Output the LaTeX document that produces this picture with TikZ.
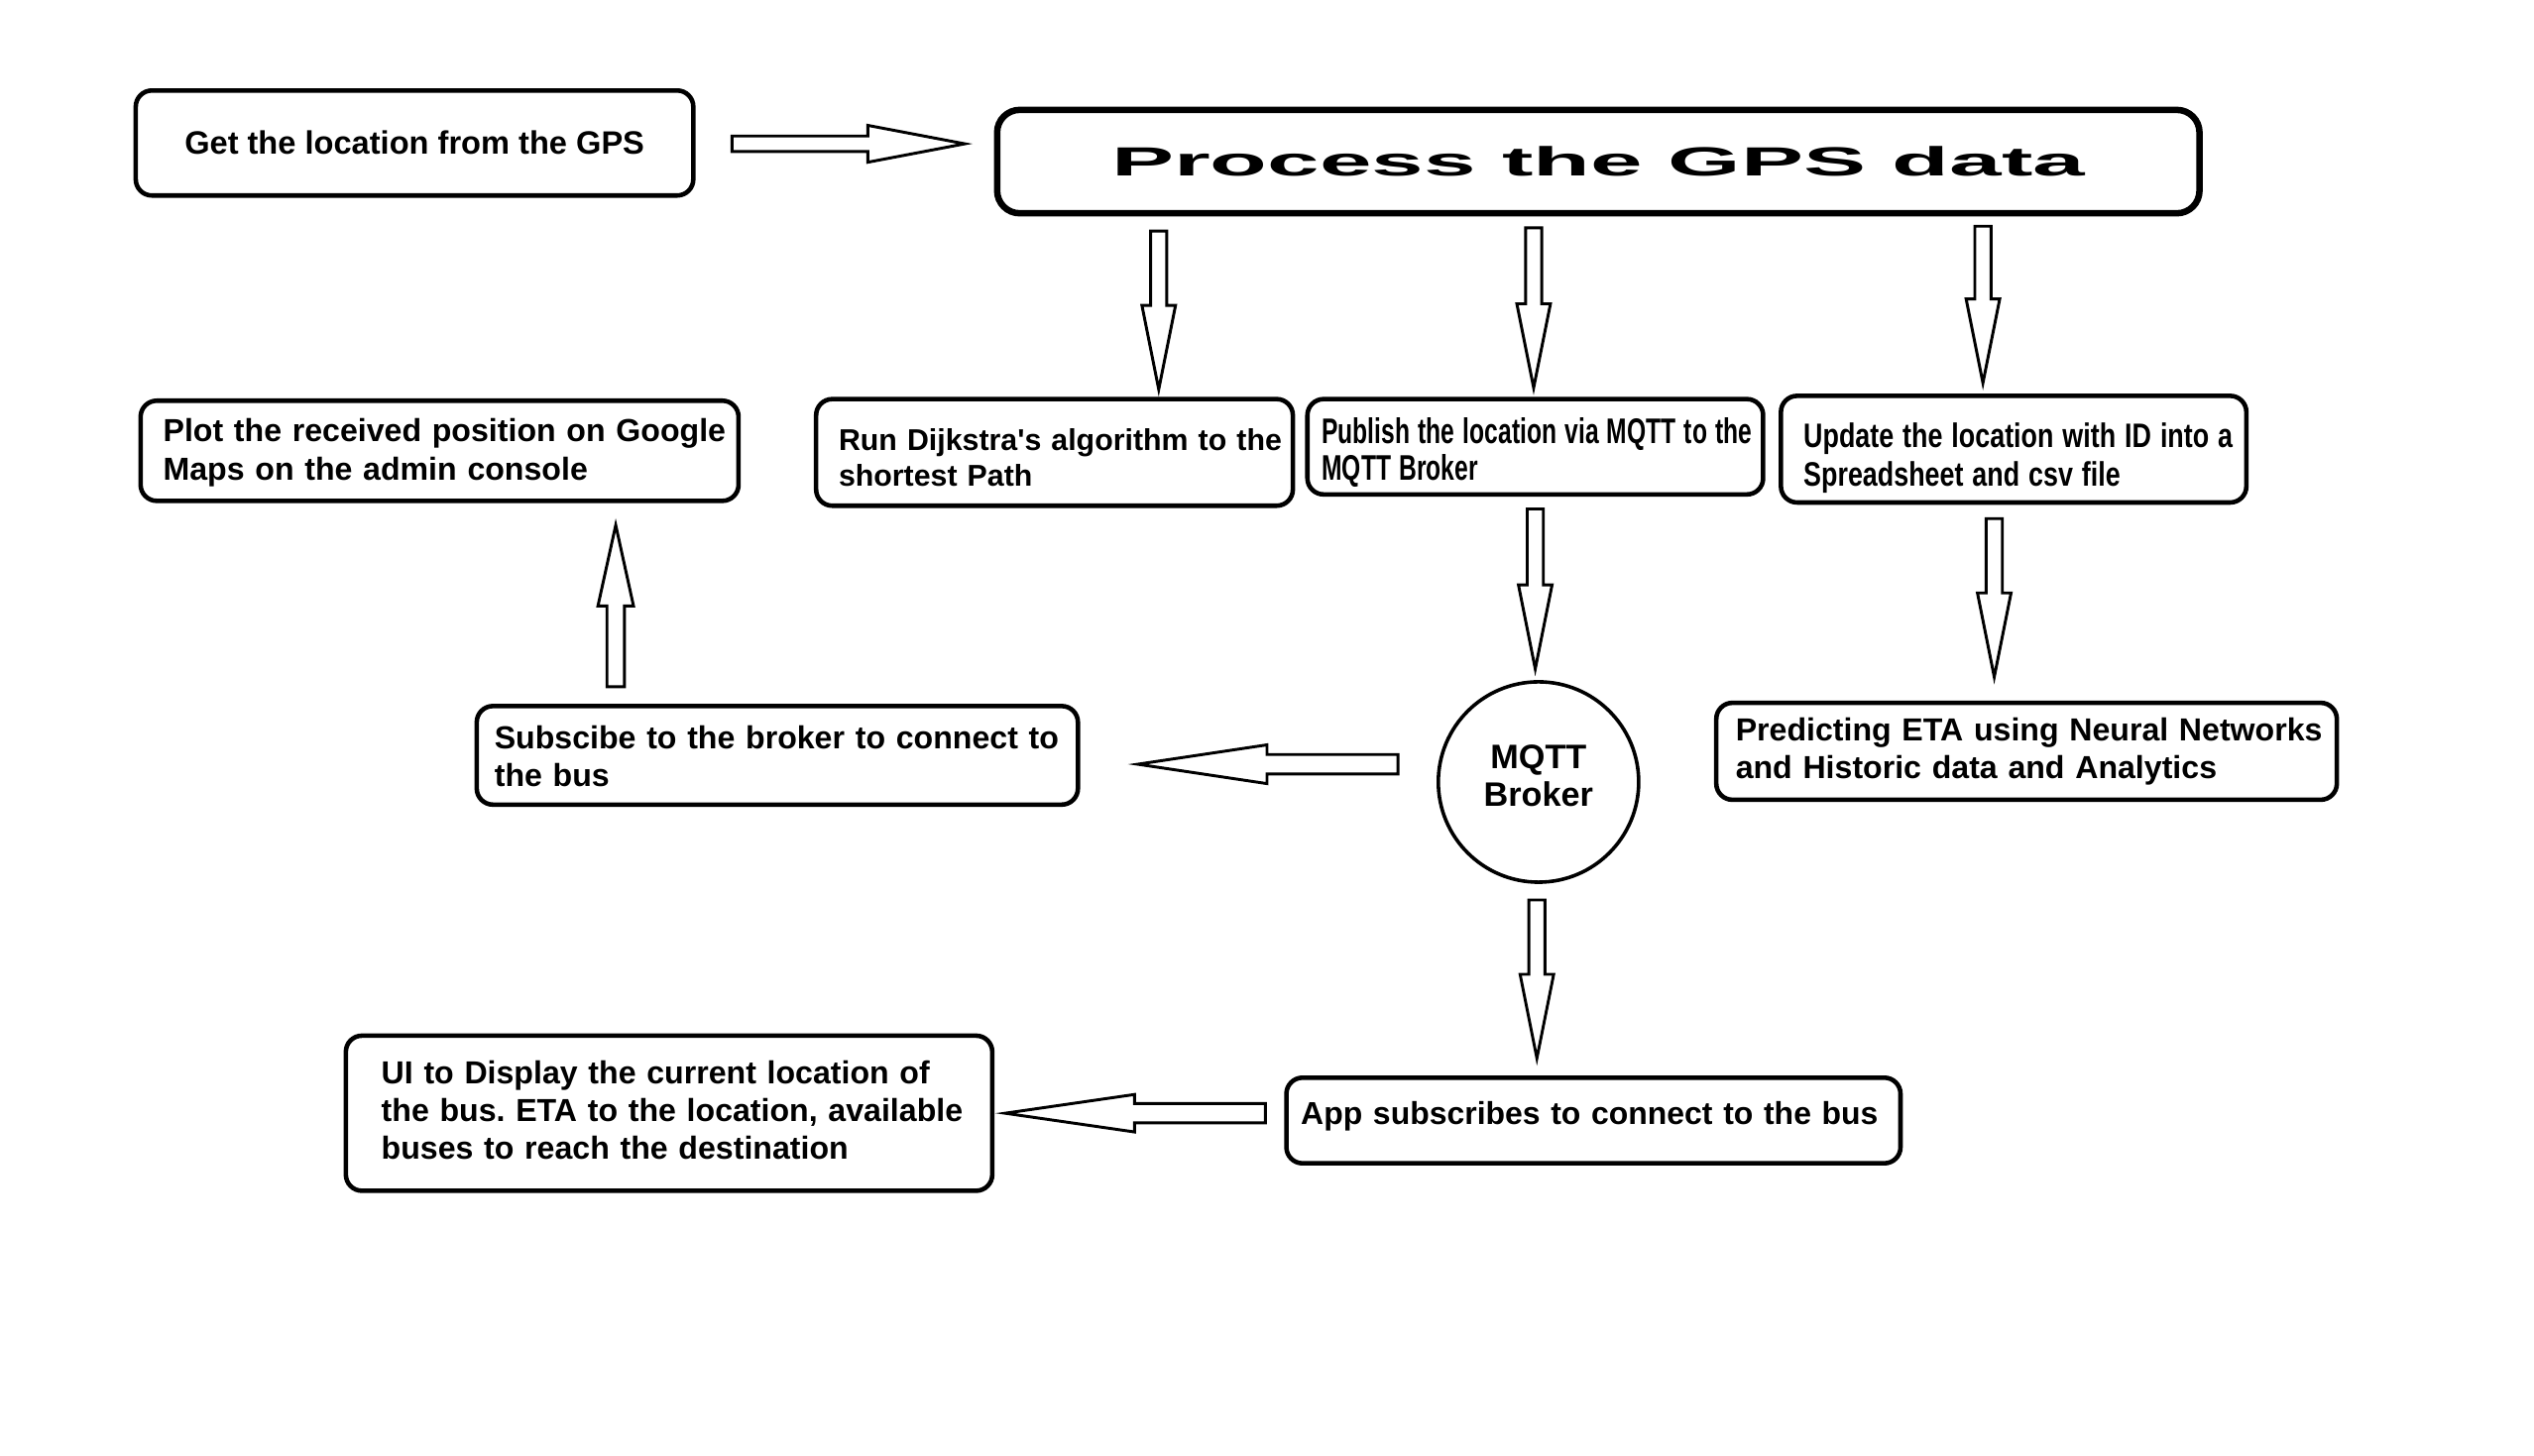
\documentclass[tikz,border=0pt]{standalone}
\usepackage{graphicx}
\usepackage{fontspec}
\setmainfont{Liberation Sans}
\newfontfamily\widefont{Liberation Sans}[FakeStretch=2.3]
\frenchspacing
\newcommand\nline[2]{\scalebox{#1}[1]{#2}}
\newcommand\topstrut[1]{\rule{0pt}{\dimexpr\fontcharht\font`l+#1\relax}}
\newcommand\botstrut[1]{\rule[-#1]{0pt}{#1}}
\newcommand\blockarrow[5]{%
  \path (#4); \pgfgetlastxy{\BAxa}{\BAya}%
  \path (#5); \pgfgetlastxy{\BAxb}{\BAyb}%
  \pgfmathsetmacro\BAlen{veclen(\BAxb-\BAxa,\BAyb-\BAya)}%
  \pgfmathsetmacro\BAang{atan2(\BAyb-\BAya,\BAxb-\BAxa)}%
  \begin{scope}[shift={(\BAxa,\BAya)},rotate=\BAang]
    \draw[blockar] (0pt,-#1) -- ({\BAlen pt-#3},-#1) -- ({\BAlen pt-#3},-#2) -- ({\BAlen pt},0pt)
      -- ({\BAlen pt-#3},#2) -- ({\BAlen pt-#3},#1) -- (0pt,#1) -- cycle;
  \end{scope}}
\begin{document}
\begin{tikzpicture}[x=0.5pt,y=-0.5pt,
  box/.style={draw, line width=1.4pt, rounded corners=5pt, align=left, inner ysep=0pt,
    font=\bfseries\fontsize{9.85}{11.7}\selectfont},
  blockar/.style={draw, line width=0.9pt, fill=white, line join=miter}]
\useasboundingbox[fill=white] (0,0) rectangle (1568,900.6);

% nodes
\node[box, align=center, minimum width=172.5pt, minimum height=32.5pt,
  font=\bfseries\fontsize{10}{11.7}\selectfont] (gps) at (256.5,88.5)
  {Get the location from the GPS};
\node[box, line width=2pt, rounded corners=7pt, align=center, minimum width=372pt, minimum height=32pt,
  font=\widefont\bfseries\fontsize{12.6}{14}\selectfont] (proc) at (989,100) {Process the GPS data};

\node[box, minimum height=31pt, text width=171pt, inner xsep=7pt] (plot) at (272,279)
  {\topstrut{1.5pt}\mbox{Plot the received position on Google}\\\mbox{Maps on the admin console}};
\node[box, minimum height=33pt, text width=133.5pt, inner xsep=7pt,
  font=\bfseries\fontsize{9.3}{10.8}\selectfont] (run) at (652.5,280)
  {\topstrut{3.5pt}\mbox{Run Dijkstra\textquotesingle s algorithm to the}\\\mbox{shortest Path}};
\node[box, minimum height=29.5pt, text width=132pt, inner xsep=4.5pt,
  font=\bfseries\fontsize{11}{11.6}\selectfont] (pub) at (950,276.5)
  {\topstrut{4pt}\nline{0.687}{Publish the location via MQTT to the}\\\nline{0.687}{MQTT Broker}};
\node[box, minimum height=33pt, text width=130pt, inner xsep=7pt,
  font=\bfseries\fontsize{10.5}{12}\selectfont] (upd) at (1246,278)
  {\topstrut{6pt}\nline{0.785}{Update the location with ID into a}\\\nline{0.785}{Spreadsheet and csv file}};

\node[box, minimum height=30.5pt, text width=175pt, inner xsep=5.5pt] (sub) at (481,467.5)
  {\topstrut{1pt}\mbox{Subscibe to the broker to connect to}\\\mbox{the bus}};
\node[draw, circle, line width=1.1pt, minimum size=62pt, inner sep=0pt, align=center, text width=50pt,
  font=\bfseries\fontsize{10.5}{11.5}\selectfont] (mqtt) at (952,484) {MQTT\\Broker\botstrut{4pt}};
\node[box, minimum height=30pt, text width=180pt, inner xsep=6pt] (pred) at (1254,465)
  {\mbox{Predicting ETA using Neural Networks}\\\mbox{and Historic data and Analytics}};

\node[box, minimum height=48pt, text width=178pt, inner xsep=11pt] (ui) at (414,689)
  {\mbox{UI to Display the current location of}\\\mbox{the bus. ETA to the location, available}\\\mbox{buses to reach the destination}\botstrut{2pt}};
\node[box, minimum height=26.5pt, text width=181pt, inner xsep=4.5pt,
  font=\bfseries\fontsize{9.8}{12}\selectfont] (app) at (986,693.5)
  {\mbox{App subscribes to connect to the bus}\botstrut{4.6pt}};

% arrow end points
\coordinate (a1s) at (453,89);   \coordinate (a1e) at (597,89);
\coordinate (d1s) at (717,143);  \coordinate (d1e) at (717,241);
\coordinate (d2s) at (949,141);  \coordinate (d2e) at (949,240);
\coordinate (d3s) at (1227,140); \coordinate (d3e) at (1227,237);
\coordinate (d4s) at (950,315);  \coordinate (d4e) at (950,414);
\coordinate (d5s) at (1234,321); \coordinate (d5e) at (1234,419);
\coordinate (u1s) at (381,425);  \coordinate (u1e) at (381,325);
\coordinate (l1s) at (865,473);  \coordinate (l1e) at (704,473);
\coordinate (d6s) at (951,557);  \coordinate (d6e) at (951,655);
\coordinate (l2s) at (783,689);  \coordinate (l2e) at (622,689);

% block arrows
\blockarrow{2.4pt}{5.7pt}{30pt}{a1s}{a1e}
\blockarrow{2.5pt}{5.2pt}{26pt}{d1s}{d1e}
\blockarrow{2.5pt}{5.2pt}{26pt}{d2s}{d2e}
\blockarrow{2.5pt}{5.2pt}{26pt}{d3s}{d3e}
\blockarrow{2.5pt}{5.2pt}{26pt}{d4s}{d4e}
\blockarrow{2.5pt}{5.2pt}{26pt}{d5s}{d5e}
\blockarrow{2.7pt}{5.5pt}{25pt}{u1s}{u1e}
\blockarrow{3pt}{6pt}{40pt}{l1s}{l1e}
\blockarrow{2.5pt}{5.2pt}{26pt}{d6s}{d6e}
\blockarrow{3pt}{5.8pt}{40pt}{l2s}{l2e}
\end{tikzpicture}
\end{document}
